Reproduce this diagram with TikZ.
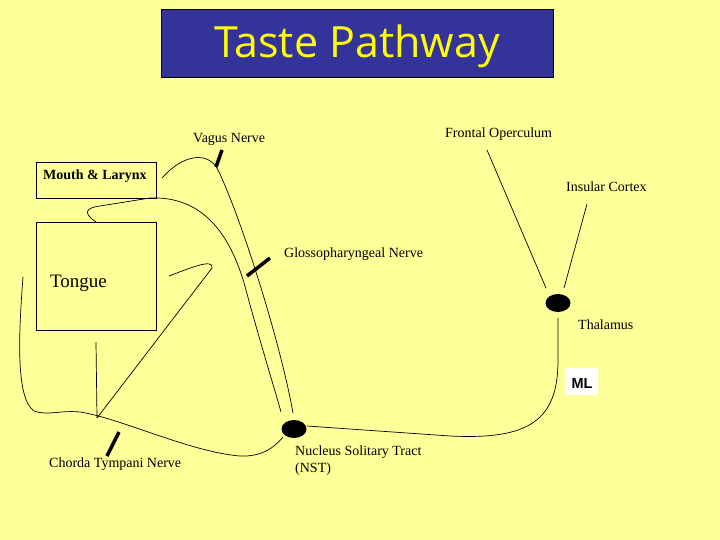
\documentclass[tikz,border=0pt]{standalone}
\usepackage{fontspec}
\setmainfont{Liberation Serif}
\newfontfamily\titlefont{Open Sans}
\newfontfamily\mlfont{Liberation Sans}
\usetikzlibrary{shapes.geometric}
\definecolor{bgyellow}{HTML}{FFFF99}
\definecolor{titleblue}{HTML}{333399}
\definecolor{titletext}{HTML}{FFFF00}
\begin{document}
\begin{tikzpicture}[x=1pt,y=-1pt,
  nerve/.style={line width=0.7pt},
  cutmark/.style={line width=3.5pt},
  lbl/.style={anchor=base west,inner sep=0pt,font=\fontsize{14}{16}\selectfont},
  box/.style={draw,line width=0.7pt,rectangle,inner sep=0pt},
  blob/.style={ellipse,fill=black,inner sep=0pt,minimum width=25pt,minimum height=18pt}]
\fill[bgyellow] (0,0) rectangle (720,540);
\useasboundingbox (0,0) rectangle (720,540);

% title
\node[draw,line width=0.8pt,fill=titleblue,minimum width=392pt,minimum height=68pt,inner sep=0pt] (title) at (357,43) {};
\node[anchor=base,inner sep=0pt,text=titletext,font=\titlefont\fontsize{43}{50}\selectfont] (titletxt) at (357,58) {Taste Pathway};

% boxes
\node[box,minimum width=120pt,minimum height=36pt] (mouth) at (96,180) {};
\node[lbl,font=\bfseries\fontsize{14}{16}\selectfont] (mouthtxt) at (43,180) {Mouth \& Larynx};
\node[box,minimum width=120pt,minimum height=108pt] (tongue) at (96,276) {};
\node[lbl,font=\fontsize{19}{22}\selectfont] (tonguetxt) at (50,287) {Tongue};

% nuclei
\node[blob] (nst) at (294,429) {};
\node[blob] (thal) at (558,303) {};

% labels
\node[lbl] (vaguslbl) at (193,143) {Vagus Nerve};
\node[lbl] (frontlbl) at (445,138) {Frontal Operculum};
\node[lbl] (insullbl) at (566,192) {Insular Cortex};
\node[lbl] (glosslbl) at (284,258) {Glossopharyngeal Nerve};
\node[lbl] (thallbl) at (578,329) {Thalamus};
\node[lbl] (nstlbl) at (295,455) {Nucleus Solitary Tract};
\node[lbl] (nstlbl2) at (295,472) {(NST)};
\node[lbl] (chordalbl) at (49,467) {Chorda Tympani Nerve};
\node[fill=white,minimum width=33pt,minimum height=27pt,inner sep=0pt] (mlbox) at (581.5,381.5) {};
\node[anchor=base,inner sep=0pt,font=\mlfont\bfseries\fontsize{14.5}{16}\selectfont] (ml) at (582,388) {ML};

% coordinates
\coordinate (vagusA) at (162,178);
\coordinate (vagusB) at (218,170);
\coordinate (vagusE) at (293,413);
\coordinate (innerA) at (96,222);
\coordinate (innerB) at (100,206);
\coordinate (innerC) at (150,198);
\coordinate (innerD) at (246,290);
\coordinate (innerE) at (281,412);
\coordinate (tgA) at (169,276);
\coordinate (tgB) at (212,268);
\coordinate (junc) at (97,418);
\coordinate (vtop) at (96,342);
\coordinate (leftA) at (23,277);
\coordinate (leftB) at (34,411);
\coordinate (leftC) at (80,412);
\coordinate (leftD) at (240,456);
\coordinate (nstin) at (283,437);
\coordinate (mlA) at (307,426);
\coordinate (mlB) at (450,436);
\coordinate (mlC) at (558,360);
\coordinate (thin) at (558,318);
\coordinate (frontend) at (487,150);
\coordinate (frontthal) at (546,288);
\coordinate (insulend) at (587,204);
\coordinate (insulthal) at (564,288);

% nerves
\draw[nerve] (vagusA) .. controls (182,155) and (208,150) .. (vagusB)
  .. controls (240,215) and (280,340) .. (vagusE);
\draw[nerve] (innerA) .. controls (84,214) and (84,208) .. (innerB) -- (innerC)
  .. controls (200,196) and (230,230) .. (innerD)
  .. controls (258,335) and (272,380) .. (innerE);
\draw[nerve] (tgA) .. controls (190,268) and (214,258) .. (tgB) -- (junc);
\draw[nerve] (vtop) -- (junc);
\draw[nerve] (leftA) .. controls (19,330) and (15,398) .. (leftB)
  .. controls (48,416) and (60,410) .. (leftC)
  .. controls (120,418) and (190,452) .. (leftD)
  .. controls (262,457) and (275,447) .. (nstin);
\draw[nerve] (mlA) -- (mlB) .. controls (530,440) and (558,420) .. (mlC) -- (thin);
\draw[nerve] (frontend) -- (frontthal);
\draw[nerve] (insulend) -- (insulthal);

% cut marks
\draw[cutmark] (216,167) -- (222,150);
\draw[cutmark] (247,276) -- (270,258);
\draw[cutmark] (119,432) -- (107,456);
\end{tikzpicture}
\end{document}
